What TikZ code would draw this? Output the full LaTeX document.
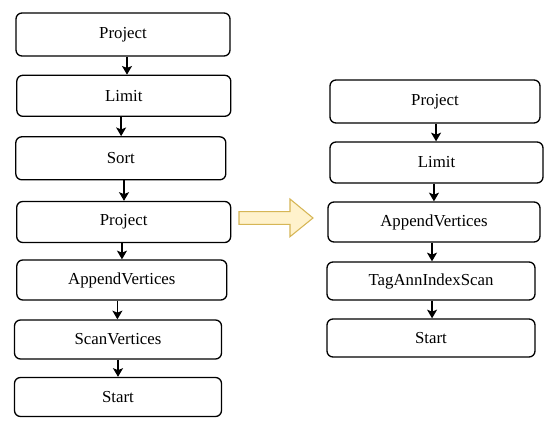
\documentclass[tikz,border=0pt]{standalone}
\usepackage{fontspec}
\setmainfont{Liberation Serif}
\usepackage{xcolor}
\usetikzlibrary{arrows.meta}
\definecolor{notefill}{HTML}{FFF2CC}
\definecolor{noteline}{HTML}{D6B656}

\begin{document}
\begin{tikzpicture}[x=0.75pt, y=-0.75pt,
  op/.style={draw, line width=1pt, rounded corners=4.5pt, align=center,
             inner sep=0pt, font=\fontsize{12.6}{14}\selectfont},
  flow/.style={->, line width=1pt},
  >={Stealth[length=6.5pt, width=7.5pt, inset=1.5pt]}]
\useasboundingbox (0,0) rectangle (547,427);
% plan before
\node[op, minimum width=214*0.75pt, minimum height=43*0.75pt] (proj1) at (123,34.5) {Project};
\node[op, minimum width=214*0.75pt, minimum height=41*0.75pt] (lim1) at (123.8,95.8) {Limit};
\node[op, minimum width=210*0.75pt, minimum height=43*0.75pt] (sort) at (120.8,158.3) {Sort};
\node[op, minimum width=214*0.75pt, minimum height=41*0.75pt] (proj2) at (123.7,222) {Project};
\node[op, minimum width=210*0.75pt, minimum height=40*0.75pt] (app1) at (121.8,280) {AppendVertices};
\node[op, minimum width=207*0.75pt, minimum height=39*0.75pt] (scan) at (118,339.5) {ScanVertices};
\node[op, minimum width=207*0.75pt, minimum height=39*0.75pt] (start1) at (118,397) {Start};
% plan after
\node[op, minimum width=210*0.75pt, minimum height=43*0.75pt] (proj3) at (435,101.5) {Project};
\node[op, minimum width=213*0.75pt, minimum height=41*0.75pt] (lim2) at (436.5,162.5) {Limit};
\node[op, minimum width=212*0.75pt, minimum height=40*0.75pt] (app2) at (434,222) {AppendVertices};
\node[op, minimum width=208*0.75pt, minimum height=38*0.75pt] (tag) at (431,281) {TagAnnIndexScan};
\node[op, minimum width=208*0.75pt, minimum height=38*0.75pt] (start2) at (431,338) {Start};

\draw[flow] ([xshift=3pt]proj1.south) -- ([xshift=3pt]proj1.south |- lim1.north);
\draw[flow] ([xshift=-2pt]lim1.south) -- ([xshift=-2pt]lim1.south |- sort.north);
\draw[flow] ([xshift=2.4pt]sort.south) -- ([xshift=2.4pt]sort.south |- proj2.north);
\draw[flow] ([xshift=-1.3pt]proj2.south) -- ([xshift=-1.3pt]proj2.south |- app1.north);
\draw[flow] ([xshift=-3.3pt]app1.south) -- ([xshift=-3.3pt]app1.south |- scan.north);
\draw[flow] (scan.south) -- (start1.north);
\draw[flow] ([xshift=0.8pt]proj3.south) -- ([xshift=0.8pt]proj3.south |- lim2.north);
\draw[flow] ([xshift=-1.9pt]lim2.south) -- ([xshift=-1.9pt]lim2.south |- app2.north);
\draw[flow] ([xshift=-1.5pt]app2.south) -- ([xshift=-1.5pt]app2.south |- tag.north);
\draw[flow] ([xshift=0.8pt]tag.south) -- ([xshift=0.8pt]tag.south |- start2.north);

% rewrite arrow
\draw[fill=notefill, draw=noteline, line width=0.8pt]
  (239,211.7) -- (290,211.7) -- (290,199) -- (313,218) -- (290,236.7)
  -- (290,224.3) -- (239,224.3) -- cycle;
\end{tikzpicture}
\end{document}
